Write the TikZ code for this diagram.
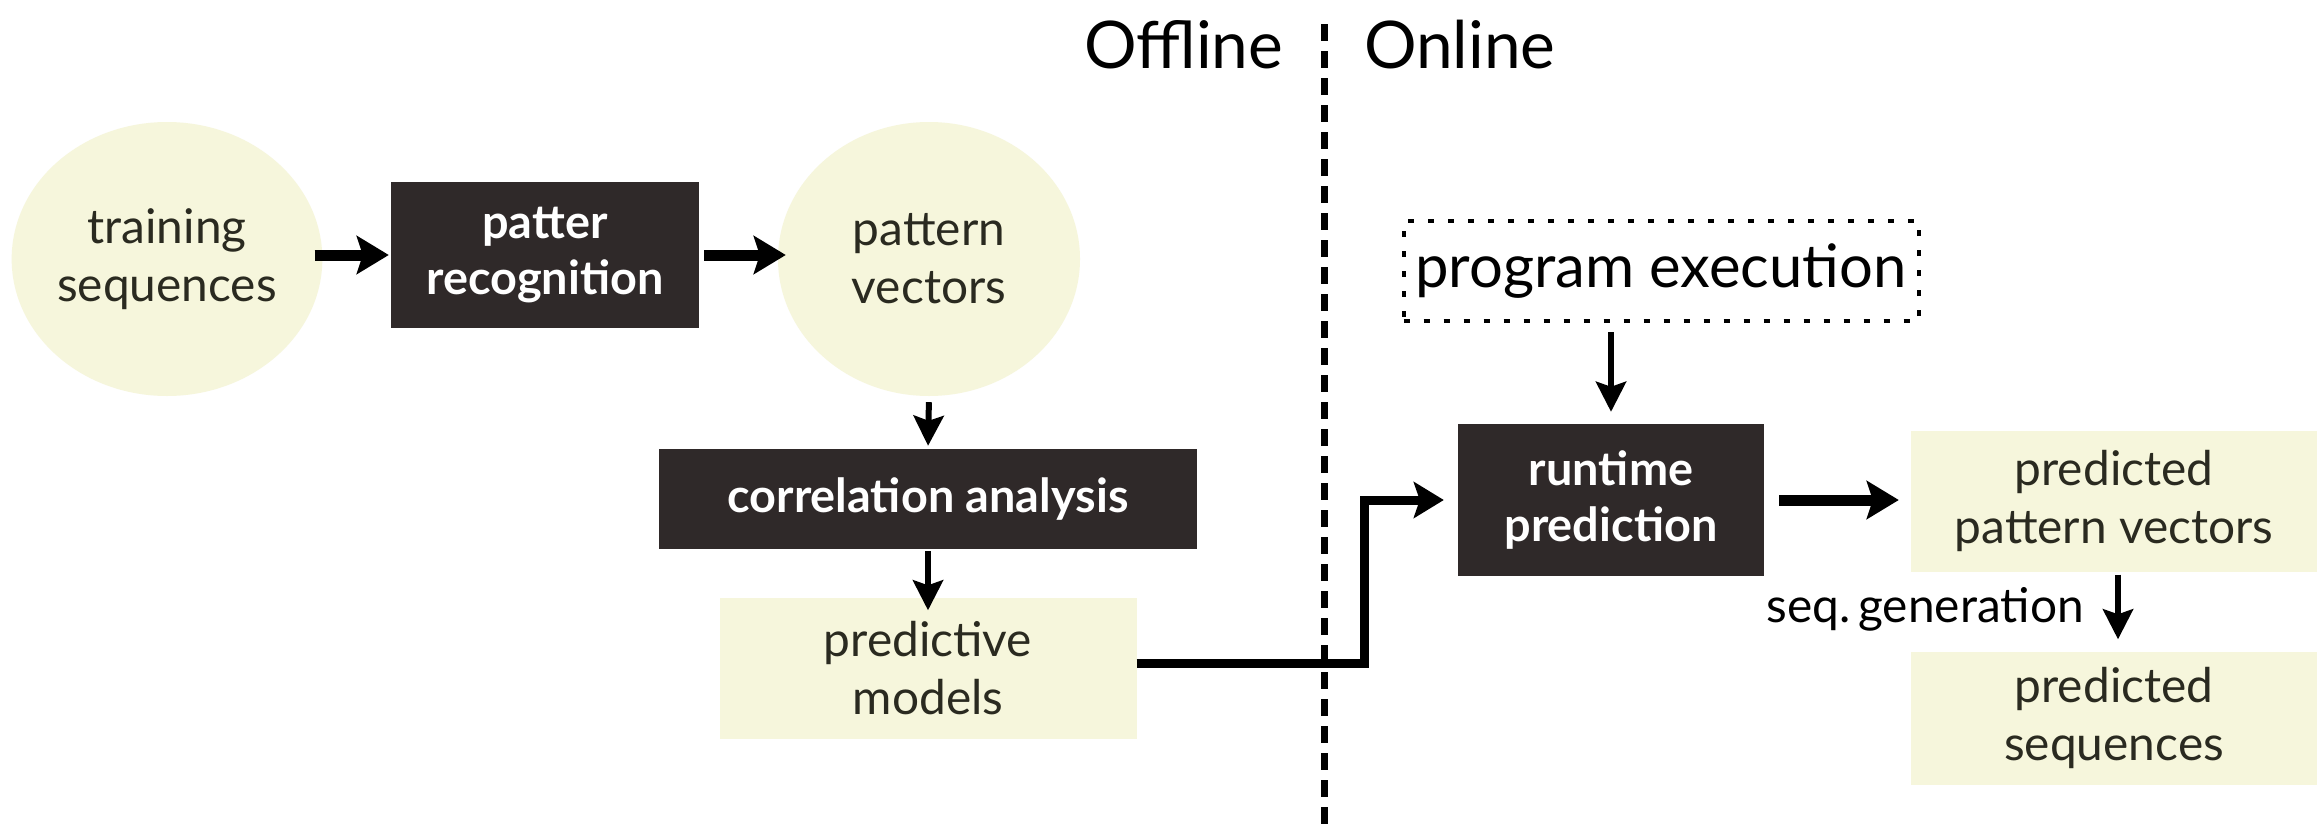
\documentclass[tikz,border=0pt]{standalone}
\usepackage{fontspec}
\setmainfont{Lato}
\usetikzlibrary{arrows.meta,shapes.geometric,calc}
\definecolor{darkbox}{HTML}{2F2929}
\definecolor{lightfill}{HTML}{F6F6DC}
\definecolor{lighttext}{HTML}{2A2A20}
\tikzset{
  lightell/.style={ellipse,fill=lightfill,draw=none,inner sep=0pt,text=lighttext,
     align=center,font=\fontsize{48}{58}\selectfont},
  darkbox/.style={rectangle,fill=darkbox,draw=none,inner sep=0pt,text=white,
     align=center,font=\fontsize{47}{57}\selectfont\bfseries},
  lightbox/.style={rectangle,fill=lightfill,draw=none,inner sep=0pt,text=lighttext,
     align=center,font=\fontsize{48}{58}\selectfont},
  dotbox/.style={rectangle,draw=black,line width=4bp,dash pattern=on 6bp off 14bp,
     inner sep=0pt,font=\fontsize{60}{70}\selectfont},
  harr/.style={line width=11bp,-{Stealth[length=32bp,width=38bp,inset=6bp]}},
  varr/.style={line width=6bp,-{Stealth[length=30bp,width=30bp,inset=5bp]}},
  conn/.style={line width=9bp,-{Stealth[length=30bp,width=36bp,inset=6bp]}},
  dashline/.style={line width=7bp,dash pattern=on 17bp off 10bp},
  sidetitle/.style={font=\fontsize{66}{76}\selectfont,inner sep=0pt},
  edgelabel/.style={font=\fontsize{48}{58}\selectfont,inner sep=0pt,text=black}
}
\begin{document}
\begin{tikzpicture}[x=1bp,y=-1bp]
\useasboundingbox[fill=white] (0,0) rectangle (2317,830);

% titles and divider
\node[sidetitle,anchor=base west] (offl) at (1084,68) {Offline};
\node[sidetitle,anchor=base west] (onl) at (1364,68) {Online};
\coordinate (dtop) at (1324,24);
\coordinate (dbot) at (1324,826);
\draw[dashline] (dtop) -- (dbot);

% offline part
\node[lightell,minimum width=292bp,minimum height=274bp] (te) at (167,259) {training\\sequences};
\node[darkbox,minimum width=308bp,minimum height=146bp] (pr) at (545,255) {patter\\recognition};
\node[lightell,minimum width=302bp,minimum height=274bp] (pv) at (929,259) {pattern\\vectors};
\node[darkbox,minimum width=538bp,minimum height=100bp] (ca) at (928,499) {correlation analysis};
\node[lightbox,minimum width=417bp,minimum height=141bp] (pm) at (928,668) {predictive\\models};

% online part
\node[dotbox,minimum width=515bp,minimum height=100bp] (pe) at (1661,271) {program execution};
\node[darkbox,minimum width=306bp,minimum height=152bp] (rp) at (1611,500) {runtime\\prediction};
\node[lightbox,minimum width=406bp,minimum height=141bp] (ppv) at (2114,501) {predicted\\pattern vectors};
\node[lightbox,minimum width=406bp,minimum height=133bp] (ps) at (2114,718) {predicted\\sequences};

% connectors
\draw[harr,shorten <=-8bp,shorten >=2bp] (te.east |- pr.west) -- (pr.west);
\draw[harr,shorten <=5bp,shorten >=-8bp] (pr.east) -- (pv.west |- pr.east);
\draw[varr,shorten <=6bp,shorten >=3bp] (pv.south) -- (ca.north);
\draw[varr,shorten <=2bp,shorten >=-13bp] (ca.south) -- (pm.north);
\coordinate (bend) at (1364,663);
\draw[conn,shorten >=14bp] (pm.east |- bend) -- (bend) |- (rp.west);
\draw[varr,shorten <=9bp,shorten >=12bp] (rp.north |- pe.south) -- (rp.north);
\draw[harr,shorten <=15bp,shorten >=12bp] (rp.east) -- (ppv.west |- rp.east);
\coordinate (sgx) at (2118,0);
\draw[varr,shorten <=3bp,shorten >=12bp] (sgx |- ppv.south) -- (sgx |- ps.north);
\node[edgelabel,anchor=base east] (sg) at (2084,622) {seq.\,generation};
\end{tikzpicture}
\end{document}
